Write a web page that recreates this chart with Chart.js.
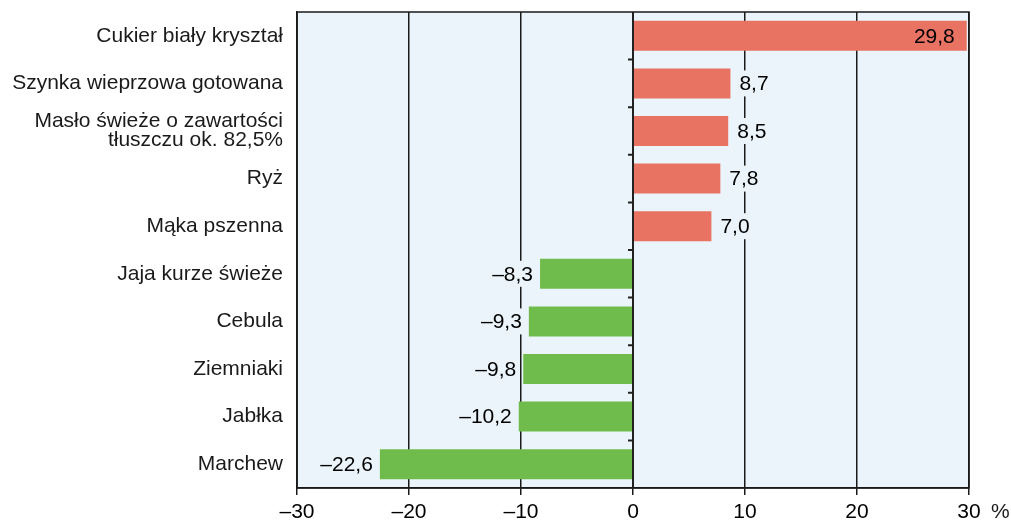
<!DOCTYPE html>
<html>
<head>
<meta charset="utf-8">
<script src="https://cdn.jsdelivr.net/npm/chart.js@4/dist/chart.umd.min.js"></script>
<style>
    html, body { margin: 0; padding: 0; background: #ffffff; }
    #wrap { width: 1011px; height: 521px; }
</style>
</head>
<body>
<div id="wrap"><canvas id="chartCanvas" width="1011" height="521"></canvas></div>
<script>
// ---------- Data ----------
const categories = [
    "Cukier biały kryształ",
    "Szynka wieprzowa gotowana",
    ["Masło świeże o zawartości", "tłuszczu ok. 82,5%"],
    "Ryż",
    "Mąka pszenna",
    "Jaja kurze świeże",
    "Cebula",
    "Ziemniaki",
    "Jabłka",
    "Marchew"
];
const changes = [29.8, 8.7, 8.5, 7.8, 7.0, -8.3, -9.3, -9.8, -10.2, -22.6];
const xTicks = [-30, -20, -10, 0, 10, 20, 30];
const unitLabel = "%";

const RED = "#e87362";
const GREEN = "#6fbc4d";
const PLOT_BG = "#ebf4fa";
const INK = "#1a1a1a";
const FONT = "'Liberation Sans', Arial, sans-serif";

function fmt(v) {
    const s = Math.abs(v).toFixed(1).replace(".", ",");
    return v < 0 ? "\u2013" + s : s;
}

// ---------- Plugins ----------
const plotBackground = {
    id: "plotBackground",
    beforeDraw(chart) {
        const { ctx, chartArea: a } = chart;
        ctx.save();
        ctx.fillStyle = PLOT_BG;
        ctx.fillRect(a.left, a.top, a.right - a.left, a.bottom - a.top);
        ctx.restore();
    }
};

const frameAndLabels = {
    id: "frameAndLabels",
    afterDatasetsDraw(chart) {
        const { ctx, chartArea: a, scales } = chart;
        const x = scales.x, y = scales.y;
        ctx.save();

        // zero line with small ticks between categories
        const x0 = x.getPixelForValue(0);
        ctx.strokeStyle = "#222";
        ctx.lineWidth = 2;
        ctx.beginPath();
        ctx.moveTo(x0, a.top);
        ctx.lineTo(x0, a.bottom);
        for (let i = 0; i < categories.length - 1; i++) {
            const yb = (y.getPixelForValue(i) + y.getPixelForValue(i + 1)) / 2;
            ctx.moveTo(x0 - 5, yb);
            ctx.lineTo(x0, yb);
        }
        ctx.stroke();

        // frame
        ctx.strokeStyle = INK;
        ctx.lineWidth = 1.5;
        ctx.strokeRect(a.left, a.top, a.right - a.left, a.bottom - a.top);

        // value labels
        ctx.font = "21px " + FONT;
        ctx.textBaseline = "middle";
        const meta = chart.getDatasetMeta(0);
        meta.data.forEach((bar, i) => {
            const v = changes[i];
            const txt = fmt(v);
            const w = ctx.measureText(txt).width;
            let tx, align;
            if (v > 25) {
                align = "right"; tx = bar.x - 12;
            } else if (v >= 0) {
                align = "left"; tx = bar.x + 9;
            } else {
                align = "right"; tx = bar.x - 7;
            }
            const bx = align === "left" ? tx - 2 : tx - w - 2;
            if (v <= 25) {
                ctx.fillStyle = PLOT_BG;
                ctx.fillRect(bx, bar.y - 13, w + 4, 26);
            }
            ctx.fillStyle = "#000";
            ctx.textAlign = align;
            ctx.fillText(txt, tx, bar.y + 1);
        });

        // unit label
        ctx.textAlign = "left";
        ctx.fillStyle = INK;
        ctx.fillText(unitLabel, a.right + 22, a.bottom + 24);
        ctx.restore();
    }
};

// ---------- Chart ----------
const ctx = document.getElementById("chartCanvas").getContext("2d");
new Chart(ctx, {
    type: "bar",
    data: {
        labels: categories,
        datasets: [{
            data: changes,
            backgroundColor: changes.map(v => v >= 0 ? RED : GREEN),
            borderWidth: 0,
            barPercentage: 0.63,
            categoryPercentage: 1
        }]
    },
    options: {
        indexAxis: "y",
        responsive: false,
        animation: false,
        devicePixelRatio: 1,
        layout: { padding: { top: 12, right: 42, left: 0, bottom: 0 } },
        plugins: {
            legend: { display: false },
            tooltip: { enabled: false },
            title: { display: false }
        },
        scales: {
            x: {
                type: "linear",
                min: -30,
                max: 30,
                afterBuildTicks: axis => { axis.ticks = xTicks.map(v => ({ value: v })); },
                afterFit: axis => {
                    axis.height = 33;
                    axis.paddingLeft = 0;
                    axis.paddingRight = 0;
                },
                grid: {
                    color: c => (c.tick && c.tick.value === 0) ? "rgba(0,0,0,0)" : INK,
                    lineWidth: 1.5,
                    tickLength: 7,
                    tickColor: INK
                },
                border: { display: true, color: INK, width: 1.5 },
                ticks: {
                    padding: 5,
                    color: "#000",
                    font: { family: FONT, size: 21 },
                    maxRotation: 0,
                    callback: v => v < 0 ? "\u2013" + Math.abs(v) : String(v)
                }
            },
            y: {
                afterFit: axis => {
                    axis.width = 297;
                    axis.paddingTop = 0;
                    axis.paddingBottom = 0;
                },
                grid: { display: false, drawTicks: false },
                border: { display: true, color: INK, width: 1.5 },
                ticks: {
                    padding: 14,
                    color: "#1a1a1a",
                    font: { family: FONT, size: 21, lineHeight: 0.92 },
                    autoSkip: false
                }
            }
        }
    },
    plugins: [plotBackground, frameAndLabels]
});
</script>
</body>
</html>
